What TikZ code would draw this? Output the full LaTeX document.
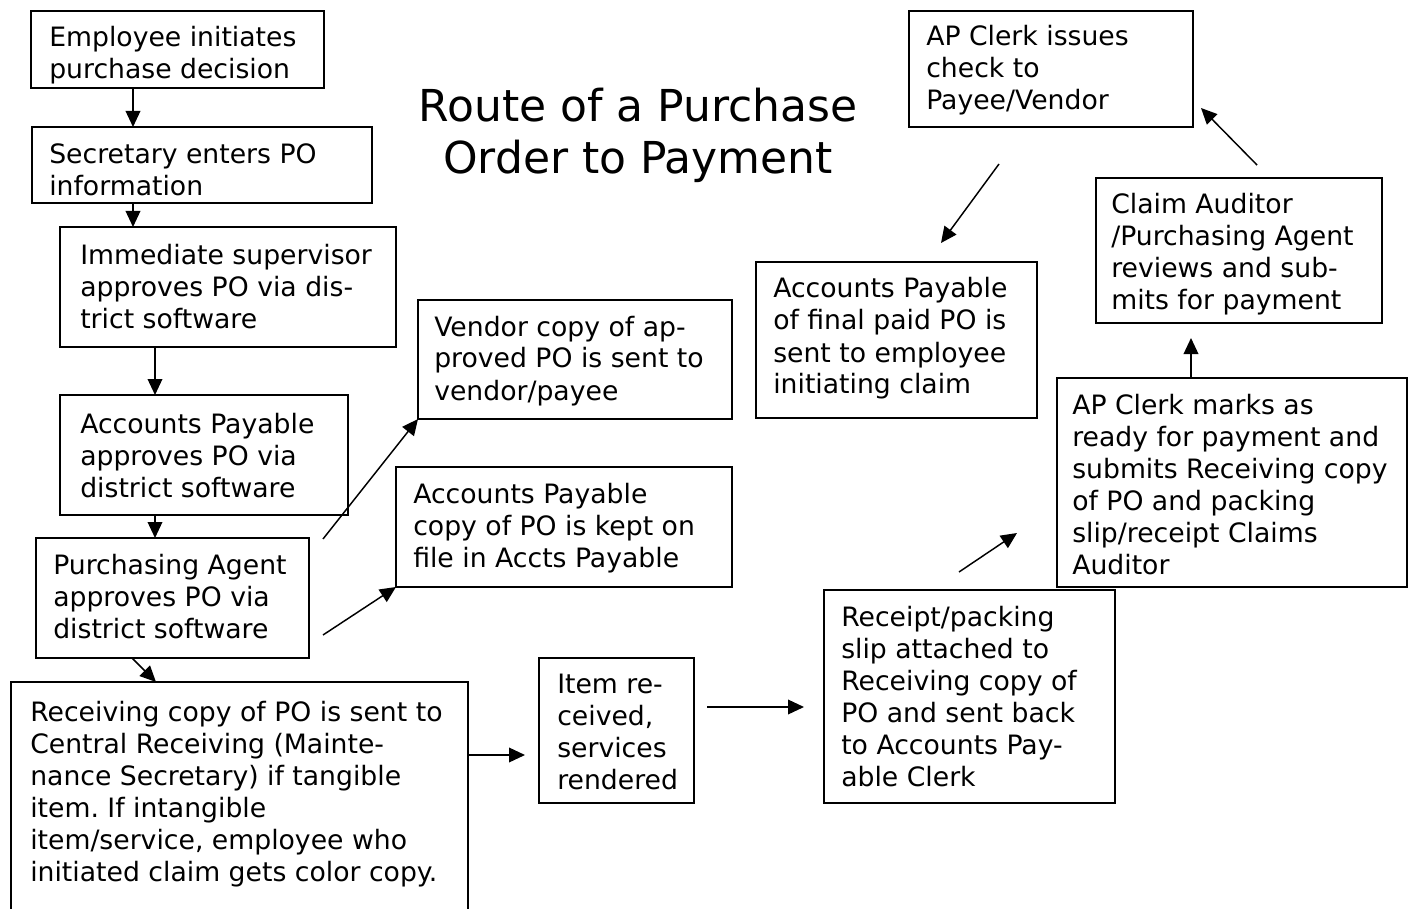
\documentclass[tikz,border=0pt]{standalone}
\usepackage{fontspec}
\setmainfont{DejaVu Sans}
\usetikzlibrary{arrows.meta,calc}
\frenchspacing
\tikzset{
  box/.style={draw, line width=1.1pt, inner sep=0pt, outer sep=0pt, rectangle},
  txt/.style={anchor=base west, inner sep=0pt, font=\fontsize{20}{24}\selectfont},
  arr/.style={-{Triangle[length=12pt,width=11pt]}, line width=1.1pt},
}
\newcommand\pbox[5]{\node[box, anchor=north west, minimum width={(#4-#2)*0.75pt}, minimum height={(#5-#3)*0.75pt}] (#1) at (#2,#3) {};}
\newcommand\ptext[4]{\node[txt] (#1) at (#2,#3) {\parbox[t]{12cm}{\fontsize{20}{24}\selectfont\frenchspacing #4}};}
\begin{document}
\begin{tikzpicture}[x=0.75pt,y=-0.75pt]
\useasboundingbox (0,0) rectangle (1410,909);
% title
\node[anchor=base, inner sep=0pt] (title) at (638,122) {\parbox[t]{12cm}{\centering\fontsize{33}{39}\selectfont Route of a Purchase\\Order to Payment}};
% boxes
\pbox{b1}{31}{11}{324}{88}
\pbox{b2}{32}{127}{372}{203}
\pbox{b3}{60}{227}{396}{347}
\pbox{b4}{418}{300}{732}{419}
\pbox{b5}{60}{395}{348}{515}
\pbox{b6}{396}{467}{732}{587}
\pbox{b7}{36}{538}{309}{658}
\pbox{b8}{11}{682}{468}{915}
\pbox{b9}{539}{658}{694}{803}
\pbox{b10}{824}{590}{1115}{803}
\pbox{b11}{1057}{378}{1407}{587}
\pbox{b12}{1096}{178}{1382}{323}
\pbox{b13}{909}{11}{1193}{127}
\pbox{b14}{756}{262}{1037}{418}
% texts
\ptext{t1}{49}{47}{Employee initiates\\purchase decision}
\ptext{t2}{49}{164}{Secretary enters PO\\information}
\ptext{t3}{80}{265}{Immediate supervisor\\approves PO via dis-\\trict software}
\ptext{t4}{434}{336}{Vendor copy of ap-\\proved PO is sent to\\vendor/payee}
\ptext{t5}{80}{433}{Accounts Payable\\approves PO via\\district software}
\ptext{t6}{413}{503}{Accounts Payable\\copy of PO is kept on\\file in Accts Payable}
\ptext{t7}{53}{574}{Purchasing Agent\\approves PO via\\district software}
\ptext{t8}{30}{721}{Receiving copy of PO is sent to\\Central Receiving (Mainte-\\nance Secretary) if tangible\\item. If intangible\\item/service, employee who\\initiated claim gets color copy.}
\ptext{t9}{557}{693}{Item re-\\ceived,\\services\\rendered}
\ptext{t10}{841}{626}{Receipt/packing\\slip attached to\\Receiving copy of\\PO and sent back\\to Accounts Pay-\\able Clerk}
\ptext{t11}{1072}{414}{AP Clerk marks as\\ready for payment and\\submits Receiving copy\\of PO and packing\\slip/receipt Claims\\Auditor}
\ptext{t12}{1111}{214}{Claim Auditor\\/Purchasing Agent\\reviews and sub-\\mits for payment}
\ptext{t13}{926}{46}{AP Clerk issues\\check to\\Payee/Vendor}
\ptext{t14}{773}{298}{Accounts Payable\\of final paid PO is\\sent to employee\\initiating claim}
% free-end coordinates
\coordinate (c5) at (323,539);
\coordinate (c6) at (323,635);
\coordinate (c8) at (525,755);
\coordinate (c9s) at (707,707);
\coordinate (c9e) at (804,707);
\coordinate (c10s) at (959,572);
\coordinate (c10e) at (1017,533);
\coordinate (c11) at (1191,338);
\coordinate (c12s) at (1257,165);
\coordinate (c12e) at (1201,108);
\coordinate (c13s) at (999,164);
\coordinate (c13e) at (941,243);
% connectors
\draw[arr] ($(b1.south west)+(102,0)$) -- ($(b2.north west)+(101,0)$);
\draw[arr] ($(b2.south west)+(101,0)$) -- ($(b3.north west)+(73,0)$);
\draw[arr] ($(b3.south west)+(95,0)$) -- ($(b5.north west)+(95,0)$);
\draw[arr] ($(b5.south west)+(95,0)$) -- ($(b7.north west)+(119,0)$);
\draw[arr] (c5) -- (b4.south west);
\draw[arr] (c6) -- (b6.south west);
\draw[arr] ($(b7.south west)+(96,0)$) -- ($(b8.north west)+(145,0)$);
\draw[arr] ($(b8.north east)+(0,73)$) -- (c8);
\draw[arr] (c9s) -- (c9e);
\draw[arr] (c10s) -- (c10e);
\draw[arr] ($(b11.north west)+(134,0)$) -- (c11);
\draw[arr] (c12s) -- (c12e);
\draw[arr] (c13s) -- (c13e);
\end{tikzpicture}
\end{document}
